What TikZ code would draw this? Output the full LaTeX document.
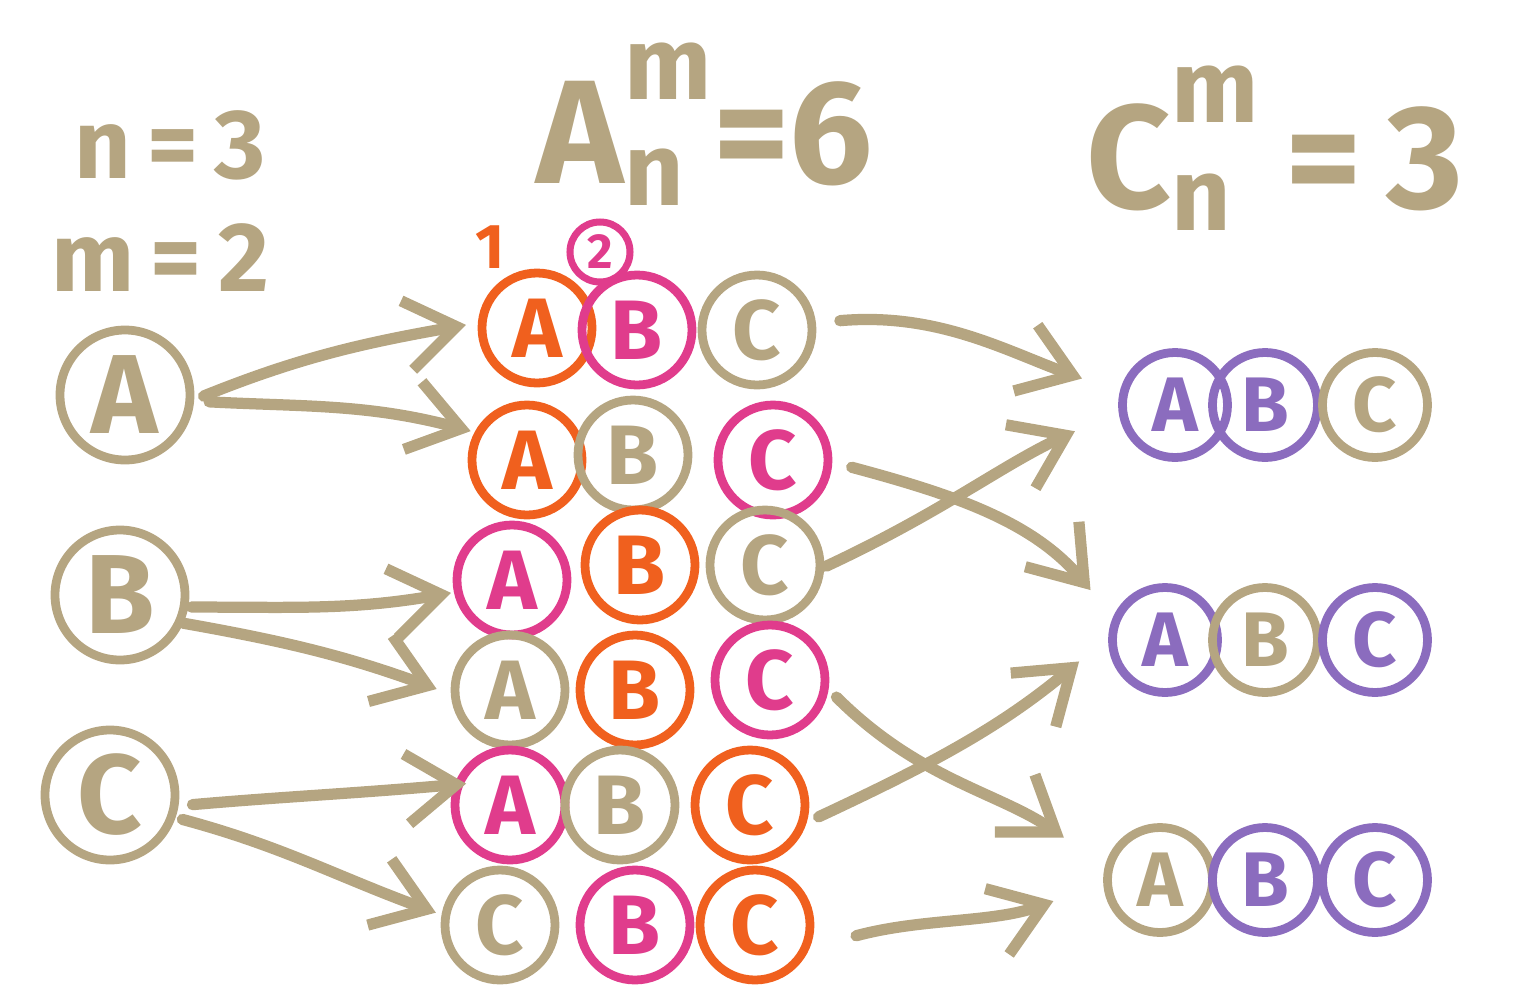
\documentclass[tikz,border=0pt]{standalone}
\usepackage{fontspec}
\usepackage{amsmath}
\setmainfont{Fira Sans}
\usetikzlibrary{arrows.meta}
\definecolor{sand}{RGB}{181,165,129}
\definecolor{rust}{RGB}{240,96,30}
\definecolor{rose}{RGB}{224,60,140}
\definecolor{lilac}{RGB}{139,108,190}

\begin{document}
\begin{tikzpicture}[
  x=0.1mm, y=0.1mm,
  ball/.style={circle, draw, line width=2.5pt, minimum size=11mm, inner sep=0pt, font=\fontsize{24}{24}\selectfont\bfseries},
  big/.style={ball, minimum size=13mm, font=\fontsize{32}{32}\selectfont\bfseries},
  small/.style={ball, minimum size=10.5mm, font=\fontsize{22}{22}\selectfont\bfseries},
  sandb/.style={draw=sand, text=sand},
  rustb/.style={draw=rust, text=rust},
  roseb/.style={draw=rose, text=rose},
  lilacb/.style={draw=lilac, text=lilac},
  given/.style={text=sand, font=\fontsize{28}{28}\selectfont\bfseries},
  formula/.style={text=sand, inner sep=0pt, font=\fontsize{42}{42}\selectfont\bfseries},
  arrow/.style={draw=sand, line width=3.2pt, line cap=round, -{Straight Barb[length=5mm, width=7mm]}},
]
\useasboundingbox (0,0) rectangle (1522,-1000);

\node[given] (nval) at (170,-145) {n\,=\,3};
\node[given] (mval) at (160,-258) {m\,=\,2};
\node[formula] (perm) at (705,-124) {$\text{A}^{\text{\raisebox{0.15em}{m}}}_{\text{n}}$=6};
\node[formula] (comb) at (1275,-148) {$\text{C}^{\text{\raisebox{0.15em}{m}}}_{\text{n}}$\,=\,3};

\node[big, sandb] (a) at (125,-395) {A};
\node[big, sandb] (b) at (120,-595) {B};
\node[big, sandb] (c) at (110,-795) {C};

\node[text=rust, font=\fontsize{18}{18}\selectfont\bfseries] (one) at (490,-247) {1};
\node[ball, roseb, minimum size=6mm, line width=2pt, font=\fontsize{14}{14}\selectfont\bfseries] (two) at (600,-252) {2};

\node[ball, rustb] (r1a) at (537,-328) {A};
\node[ball, roseb] (r1b) at (637,-330) {B};
\node[ball, sandb] (r1c) at (757,-330) {C};
\node[ball, rustb] (r2a) at (527,-460) {A};
\node[ball, sandb] (r2b) at (633,-455) {B};
\node[ball, roseb] (r2c) at (773,-460) {C};
\node[ball, roseb] (r3a) at (512,-580) {A};
\node[ball, rustb] (r3b) at (640,-565) {B};
\node[ball, sandb] (r3c) at (765,-565) {C};
\node[ball, sandb] (r4a) at (510,-690) {A};
\node[ball, rustb] (r4b) at (635,-690) {B};
\node[ball, roseb] (r4c) at (770,-680) {C};
\node[ball, roseb] (r5a) at (510,-805) {A};
\node[ball, sandb] (r5b) at (620,-805) {B};
\node[ball, rustb] (r5c) at (750,-805) {C};
\node[ball, sandb] (r6a) at (500,-925) {C};
\node[ball, roseb] (r6b) at (635,-925) {B};
\node[ball, rustb] (r6c) at (755,-925) {C};

\node[small, lilacb] (s1a) at (1175,-405) {A};
\node[small, lilacb] (s1b) at (1265,-405) {B};
\node[small, sandb] (s1c) at (1375,-405) {C};
\node[small, lilacb] (s2a) at (1165,-640) {A};
\node[small, sandb] (s2b) at (1265,-640) {B};
\node[small, lilacb] (s2c) at (1375,-640) {C};
\node[small, sandb] (s3a) at (1160,-880) {A};
\node[small, lilacb] (s3b) at (1265,-880) {B};
\node[small, lilacb] (s3c) at (1375,-880) {C};

\draw[arrow, shorten <=1mm, shorten >=1.2mm] (a.-4) to[out=22, in=190] (r1a.175);
\draw[arrow, shorten <=1.5mm, shorten >=0.4mm] (a.-5) to[out=-3, in=165] (r2a.152);
\draw[arrow, shorten <=0.3mm, shorten >=0.3mm] (b.-10) to[out=0, in=190] (r3a.192);
\draw[arrow, shorten <=0mm, shorten >=1.5mm] (b.-24) to[out=-10, in=160] (r4a.184);
\draw[arrow, shorten <=1.4mm, shorten >=-1.2mm] (c.-9) to[out=5, in=185] (r5a.160);
\draw[arrow, shorten <=0.7mm, shorten >=0.6mm] (c.-19) to[out=-15, in=160] (r6a.170);

\draw[arrow, shorten <=2.4mm, shorten >=4mm] (r1c.7) to[out=5, in=160] (s1a.167);
\draw[arrow, shorten <=2mm, shorten >=3.5mm] (r2c.-2) to[out=-15, in=130] (s2a.156);
\draw[arrow, shorten <=0.2mm, shorten >=4.8mm] (r3c.-2) to[out=25, in=205] (s1a.186);
\draw[arrow, shorten <=1.1mm, shorten >=5mm] (r4c.-9) to[out=-45, in=145] (s3a.166);
\draw[arrow, shorten <=1.3mm, shorten >=3.8mm] (r5c.-17) to[out=25, in=220] (s2a.177);
\draw[arrow, shorten <=4.8mm, shorten >=5.3mm] (r6c.-23) to[out=15, in=200] (s3a.183);
\end{tikzpicture}
\end{document}
